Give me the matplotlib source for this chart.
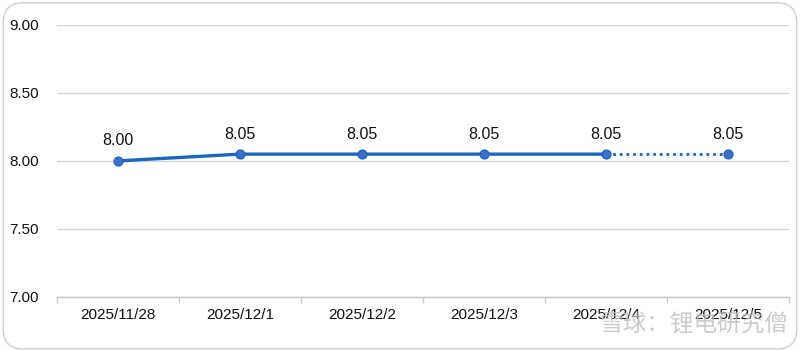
import matplotlib
matplotlib.use("Agg")
import matplotlib.pyplot as plt
from matplotlib.patches import FancyBboxPatch

dates = ["2025/11/28", "2025/12/1", "2025/12/2", "2025/12/3", "2025/12/4", "2025/12/5"]
values = [8.00, 8.05, 8.05, 8.05, 8.05, 8.05]
n_solid = 5  # last segment is dotted (forecast)
y_ticks = [7.00, 7.50, 8.00, 8.50, 9.00]

plt.rcParams["font.family"] = ["Liberation Sans", "DejaVu Sans"]

blue = "#1a66c0"
fig = plt.figure(figsize=(8.0, 3.51), dpi=100)
ax = fig.add_axes([0.071, 0.154, 0.915, 0.775])

x = list(range(len(dates)))
ax.plot(x[:n_solid], values[:n_solid], color=blue, linewidth=2.4,
        solid_capstyle="round", zorder=3)
ax.plot(x[n_solid - 1:], values[n_solid - 1:], color=blue, linewidth=2.0,
        linestyle=(0, (1, 1.4)), zorder=3)
ax.scatter(x, values, s=40, color="#3f6fc6", edgecolor=blue, linewidth=1.0, zorder=4)

for xi, v in zip(x, values):
    ax.annotate(f"{v:.2f}", (xi, v), xytext=(0, 9), textcoords="offset points",
                ha="center", va="bottom", fontsize=11.5, color="#111111")

ax.set_xlim(-0.5, len(dates) - 0.5)
ax.set_ylim(7.0, 9.0)
ax.set_yticks(y_ticks)
ax.set_yticklabels([f"{t:.2f}" for t in y_ticks])
ax.set_xticks(x)
ax.set_xticklabels(dates)
ax.set_xticks([i - 0.5 for i in range(len(dates) + 1)], minor=True)

ax.yaxis.grid(True, color="#d4d4d4", linewidth=1.0)
ax.set_axisbelow(True)
for s in ["top", "right", "left"]:
    ax.spines[s].set_visible(False)
ax.spines["bottom"].set_color("#c8c8c8")
ax.spines["bottom"].set_linewidth(1.0)
ax.tick_params(axis="y", length=0, pad=13, labelsize=11, colors="#111111")
ax.tick_params(axis="x", which="major", length=0, pad=8, labelsize=11, colors="#111111")
ax.tick_params(axis="x", which="minor", length=4, color="#c8c8c8", width=1.0)

border = FancyBboxPatch((0.004, 0.006), 0.992, 0.986, boxstyle="round,pad=0,rounding_size=0.025",
                        transform=fig.transFigure, facecolor="none", edgecolor="#d0d0d0",
                        linewidth=1.0, mutation_aspect=800 / 351)
fig.patches.append(border)

fig.text(0.985, 0.075, "雪球：锂电研究僧", ha="right", va="center", fontsize=17,
         family=["Noto Sans CJK SC", "DejaVu Sans"], color="#c0c0c0", alpha=0.8)

fig.savefig("out.png", dpi=100, facecolor="white")
